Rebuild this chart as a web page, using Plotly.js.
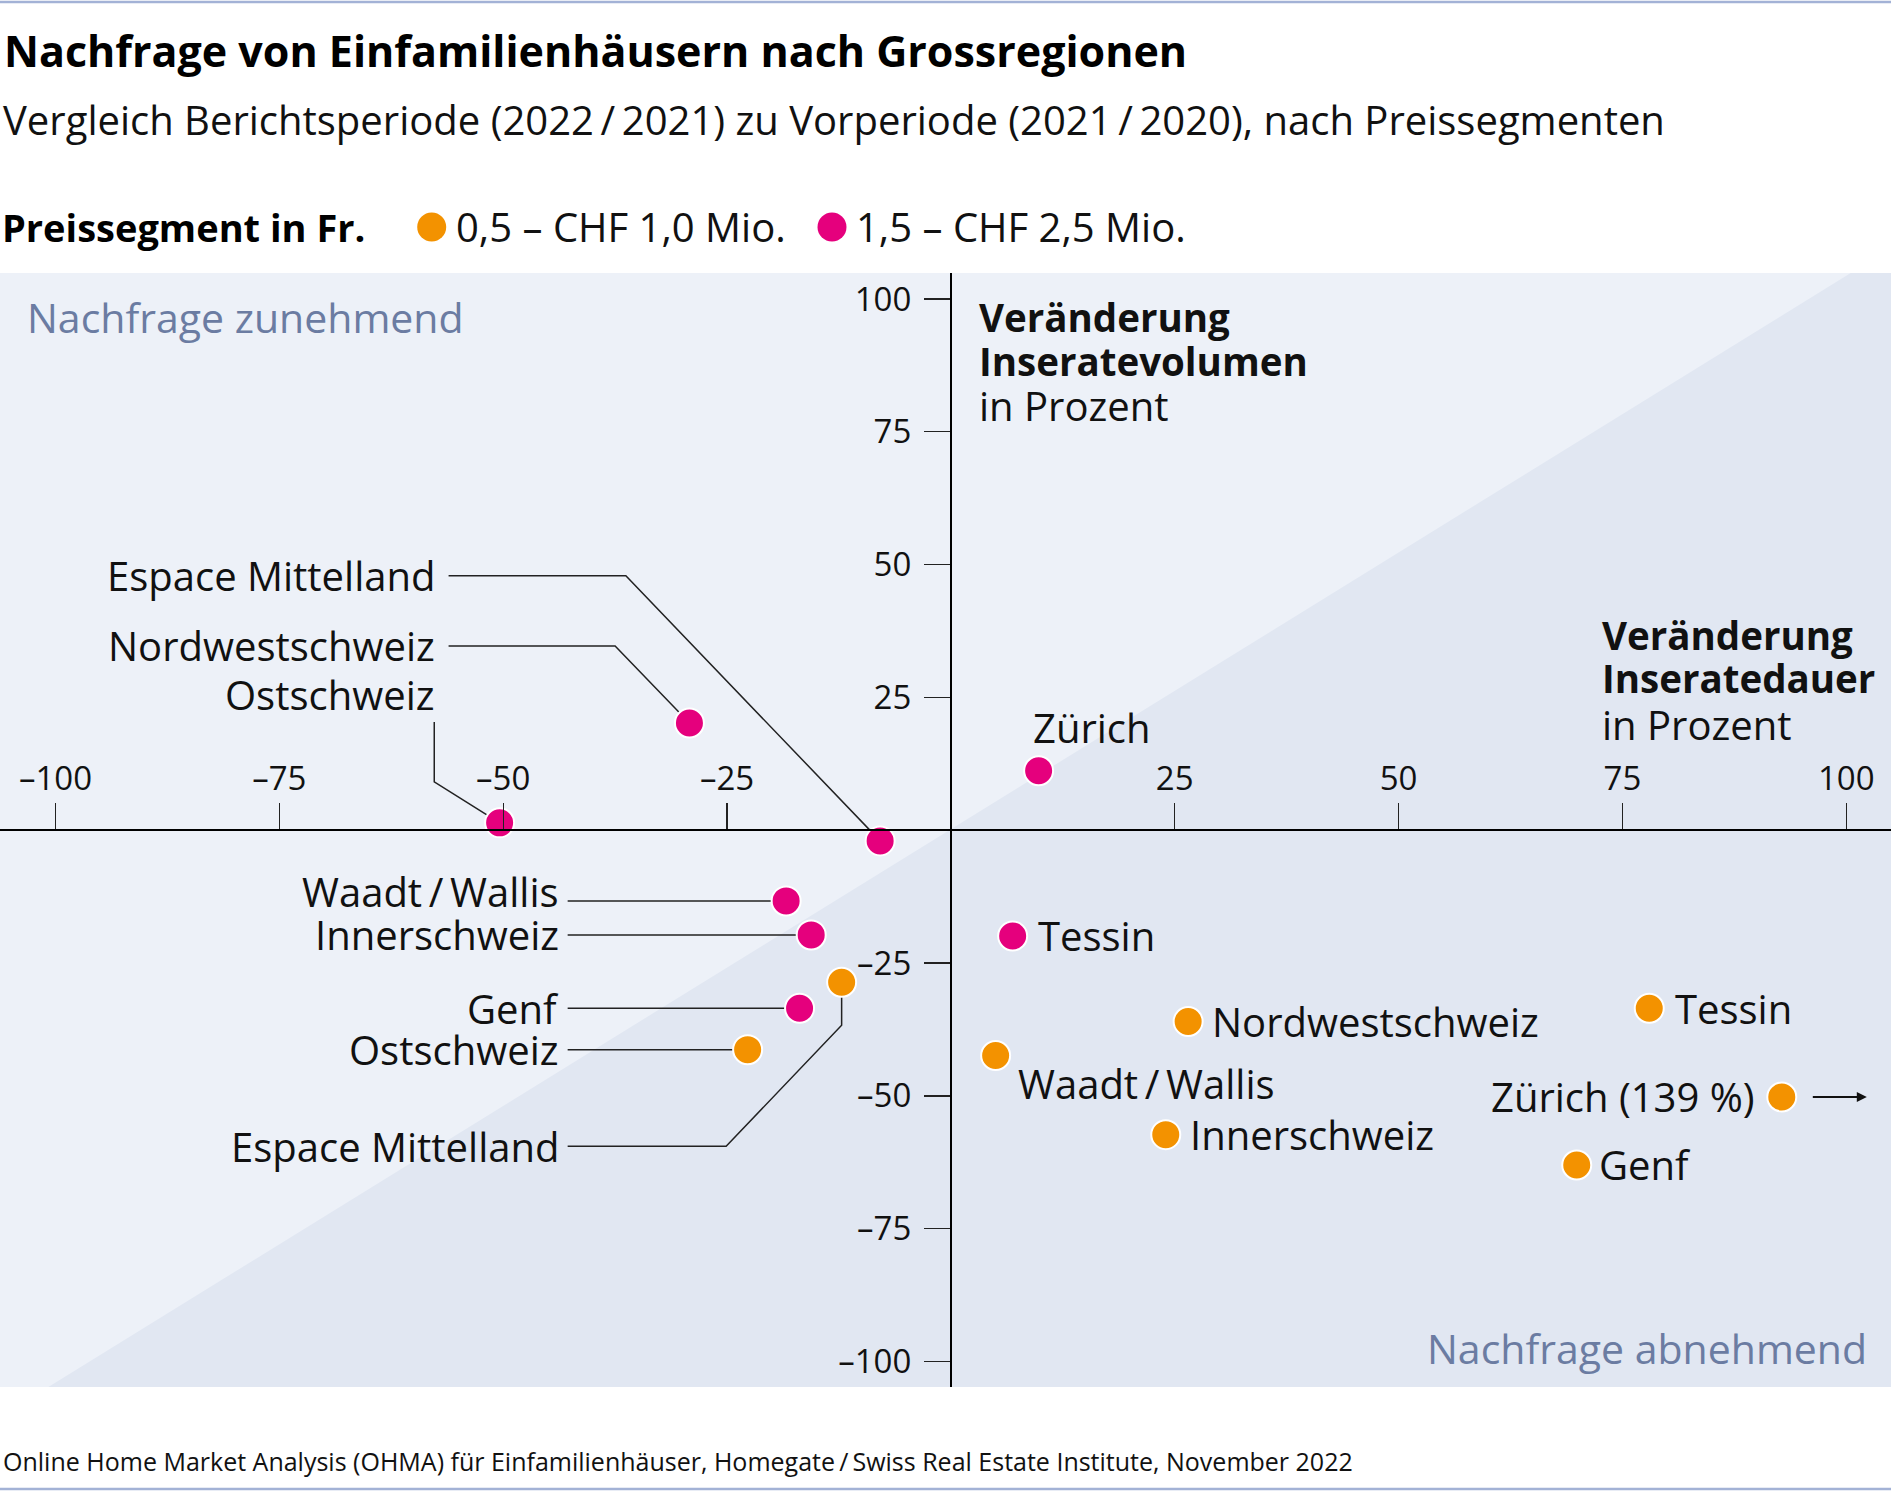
<!DOCTYPE html>
<html>
<head>
<meta charset="utf-8">
<script src="https://cdn.plot.ly/plotly-3.0.1.min.js"></script>
<style>
  body { margin: 0; background: #fff; }
  #chart { width: 1891px; height: 1492px; }
</style>
</head>
<body>
<div id="chart"></div>
<script>
// Regionen in fixer Reihenfolge
const regions = ["Zürich", "Espace Mittelland", "Nordwestschweiz", "Ostschweiz",
                 "Innerschweiz", "Waadt\u2009/\u2009Wallis", "Genf", "Tessin"];

// Preissegment 0,5 - 1,0 Mio. (x = Inseratedauer, y = Inseratevolumen, in %)
// Zürich liegt eigentlich bei 139 %, wird aber am Rand gezeichnet
const lowX = [92.8, -12.2, 26.5, -22.7, 24.0, 5.0, 69.9, 78.0];
const lowY = [-50.2, -28.6, -36.0, -41.3, -57.3, -42.4, -63.0, -33.5];
const zurichLowActual = 139;

// Preissegment 1,5 - 2,5 Mio.
const highX = [9.8, -7.9, -29.2, -50.4, -15.6, -18.4, -16.9, 6.9];
const highY = [11.2, -2.0, 20.2, 1.4, -19.7, -13.3, -33.5, -19.9];

// Achsen
const tickVals = [-100, -75, -50, -25, 25, 50, 75, 100];
const tickText = ["\u2013100", "\u201375", "\u201350", "\u201325", "25", "50", "75", "100"];

const ORANGE = "#f39200";
const PINK = "#e5007d";
const FONT = "Open Sans";
const W = 1891, H = 1492;
const PLOT_TOP = 273, PLOT_BOTTOM = 1387;
const xRange = [-106.2, 105];
const yRange = [-104.8, 104.9];

// pixel -> paper helpers for things outside the plot area
function paperX(px) { return px / W; }
function paperY(py) { return (PLOT_BOTTOM - py) / (PLOT_BOTTOM - PLOT_TOP); }

let data = [
    {
        x: lowX, y: lowY, text: regions, type: "scatter", mode: "markers",
        name: "0,5 – CHF 1,0 Mio.",
        marker: { color: ORANGE, size: 29, line: { color: "#fff", width: 2 } },
        hoverinfo: "text+x+y"
    },
    {
        x: highX, y: highY, text: regions, type: "scatter", mode: "markers",
        name: "1,5 – CHF 2,5 Mio.",
        marker: { color: PINK, size: 29, line: { color: "#fff", width: 2 } },
        hoverinfo: "text+x+y"
    }
];

// Beschriftungen: [serie, index, x, y, xanchor, Leitlinie]
const labelLayout = [
    ["high", 1, -57.4, 47.9, "right", [[-56.1, 47.9], [-36.3, 47.9]]],
    ["high", 2, -57.4, 34.7, "right", [[-56.1, 34.7], [-37.5, 34.7]]],
    ["high", 3, -57.4, 25.5, "right", [[-57.7, 20.4], [-57.7, 9.1]]],
    ["high", 5, -43.6, -11.5, "right", [[-42.8, -13.3]]],
    ["high", 4, -43.6, -19.7, "right", [[-42.8, -19.7]]],
    ["high", 6, -43.6, -33.5, "right", [[-42.8, -33.5]]],
    ["low", 3, -43.6, -41.3, "right", [[-42.8, -41.3]]],
    ["low", 1, -43.6, -59.5, "right", [[-42.8, -59.5], [-25.1, -59.5], [-12.2, -36.7]]],
    ["high", 0, 8.9, 19.3, "left", null],
    ["high", 7, 9.5, -19.9, "left", null],
    ["low", 2, 28.9, -36.0, "left", null],
    ["low", 5, 7.3, -47.6, "left", null],
    ["low", 4, 26.5, -57.3, "left", null],
    ["low", 7, 80.7, -33.5, "left", null],
    ["low", 6, 72.2, -63.0, "left", null],
    ["low", 0, 90.0, -50.2, "right", null]
];

let annotations = [];
let shapes = [];

// dunkleres Dreieck unterhalb der Diagonale
shapes.push({
    type: "path", xref: "x", yref: "y", layer: "below",
    path: "M -100.8," + yRange[0] + " L 100.5," + yRange[1] + " L " + xRange[1] + "," + yRange[1] +
          " L " + xRange[1] + "," + yRange[0] + " Z",
    fillcolor: "#e1e7f2", line: { width: 0 }
});

labelLayout.forEach(l => {
    const xs = l[0] === "low" ? lowX : highX;
    const ys = l[0] === "low" ? lowY : highY;
    let txt = regions[l[1]];
    if (l[0] === "low" && l[1] === 0) txt = txt + " (" + zurichLowActual + "\u00a0%)";
    annotations.push({
        x: l[2], y: l[3], xref: "x", yref: "y", text: txt, showarrow: false,
        xanchor: l[4], yanchor: "middle",
        font: { family: FONT, size: 40, color: "#111" }
    });
    if (l[5]) {
        let pts = l[5].concat([[xs[l[1]], ys[l[1]]]]);
        let p = pts.map((q, i) => (i === 0 ? "M " : "L ") + q[0] + "," + q[1]).join(" ");
        shapes.push({
            type: "path", xref: "x", yref: "y", layer: "below", path: p,
            line: { color: "#222", width: 1.5 }
        });
    }
});

// Pfeil für Zürich (ausserhalb Skala)
annotations.push({
    x: 102.3, y: lowY[0], ax: 96.1, ay: lowY[0], xref: "x", yref: "y", axref: "x", ayref: "y",
    text: "", showarrow: true, arrowhead: 2, arrowsize: 1, arrowwidth: 2, arrowcolor: "#111"
});

// Achsentitel
const axisText = [
    [2.9, 96.7, "<b>Veränderung</b>", 38.5],
    [2.9, 88.3, "<b>Inseratevolumen</b>", 38.5],
    [2.9, 79.9, "in Prozent", 40],
    [72.5, 36.8, "<b>Veränderung</b>", 38.5],
    [72.5, 28.6, "<b>Inseratedauer</b>", 38.5],
    [72.5, 20.0, "in Prozent", 40]
];
axisText.forEach(a => {
    annotations.push({
        x: a[0], y: a[1], xref: "x", yref: "y", text: a[2], showarrow: false,
        xanchor: "left", yanchor: "middle",
        font: { family: FONT, size: a[3], color: "#111" }
    });
});

// Ecken
annotations.push({
    x: -103.4, y: 96.7, xref: "x", yref: "y", text: "Nachfrage zunehmend", showarrow: false,
    xanchor: "left", yanchor: "middle", font: { family: FONT, size: 41, color: "#6b7ca2" }
});
annotations.push({
    x: 102.5, y: -97.5, xref: "x", yref: "y", text: "Nachfrage abnehmend", showarrow: false,
    xanchor: "right", yanchor: "middle", font: { family: FONT, size: 41, color: "#6b7ca2" }
});

// Titel, Untertitel, Legende, Quelle
annotations.push({
    x: paperX(2), y: paperY(50), xref: "paper", yref: "paper", showarrow: false,
    xanchor: "left", yanchor: "middle",
    text: "<b>Nachfrage von Einfamilienhäusern nach Grossregionen</b>",
    font: { family: FONT, size: 43, color: "#000" }
});
annotations.push({
    x: paperX(1), y: paperY(119), xref: "paper", yref: "paper", showarrow: false,
    xanchor: "left", yanchor: "middle",
    text: "Vergleich Berichtsperiode (2022\u2009/\u20092021) zu Vorperiode (2021\u2009/\u20092020), nach Preissegmenten",
    font: { family: FONT, size: 40, color: "#111" }
});
annotations.push({
    x: paperX(0), y: paperY(227), xref: "paper", yref: "paper", showarrow: false,
    xanchor: "left", yanchor: "middle", text: "<b>Preissegment in Fr.</b>",
    font: { family: FONT, size: 38, color: "#000" }
});
const legendItems = [[431.7, ORANGE, data[0].name], [832, PINK, data[1].name]];
legendItems.forEach(li => {
    shapes.push({
        type: "circle", xref: "paper", yref: "paper",
        x0: paperX(li[0] - 14.5), x1: paperX(li[0] + 14.5),
        y0: paperY(227 + 14.5), y1: paperY(227 - 14.5),
        fillcolor: li[1], line: { width: 0 }
    });
    annotations.push({
        x: paperX(li[0] + 22), y: paperY(227), xref: "paper", yref: "paper", showarrow: false,
        xanchor: "left", yanchor: "middle", text: li[2],
        font: { family: FONT, size: 40, color: "#111" }
    });
});
annotations.push({
    x: paperX(1), y: paperY(1461), xref: "paper", yref: "paper", showarrow: false,
    xanchor: "left", yanchor: "middle",
    text: "Online Home Market Analysis (OHMA) für Einfamilienhäuser, Homegate\u2009/\u2009Swiss Real Estate Institute, November 2022",
    font: { family: FONT, size: 25, color: "#111" }
});

// dünne Linien oben und unten
[2, 1489].forEach(py => {
    shapes.push({
        type: "line", xref: "paper", yref: "paper", x0: 0, x1: 1,
        y0: paperY(py), y1: paperY(py), line: { color: "#a3b2d6", width: 2.5 }
    });
});

let layout = {
    width: W,
    height: H,
    margin: { t: PLOT_TOP, b: H - PLOT_BOTTOM, l: 0, r: 0 },
    paper_bgcolor: "#ffffff",
    plot_bgcolor: "#edf1f8",
    showlegend: false,
    font: { family: FONT, color: "#111" },
    xaxis: {
        range: xRange, showgrid: false, zeroline: false,
        showline: true, linecolor: "#000", linewidth: 2,
        anchor: "free", position: (0 - yRange[0]) / (yRange[1] - yRange[0]),
        side: "top", ticks: "outside", ticklen: 26, tickwidth: 1.3, tickcolor: "#222",
        tickmode: "array", tickvals: tickVals, ticktext: tickText,
        tickfont: { family: FONT, size: 33, color: "#111" },
        ticklabelstandoff: 0, fixedrange: true
    },
    yaxis: {
        range: yRange, showgrid: false, zeroline: false,
        showline: true, linecolor: "#000", linewidth: 2,
        anchor: "free", position: (0 - xRange[0]) / (xRange[1] - xRange[0]),
        side: "left", ticks: "outside", ticklen: 26, tickwidth: 1.3, tickcolor: "#222",
        tickmode: "array", tickvals: tickVals, ticktext: tickText,
        tickfont: { family: FONT, size: 33, color: "#111" },
        ticklabelstandoff: 6, fixedrange: true
    },
    shapes: shapes,
    annotations: annotations
};

Plotly.newPlot("chart", data, layout, { displayModeBar: false, staticPlot: true });
</script>
</body>
</html>
